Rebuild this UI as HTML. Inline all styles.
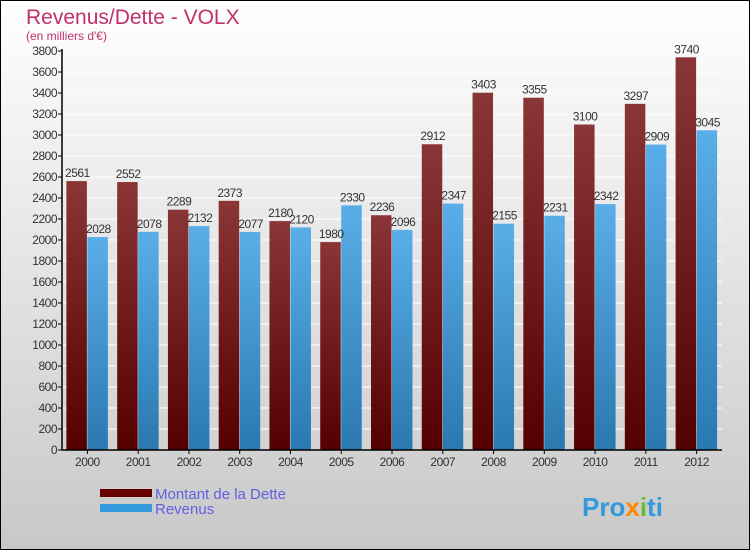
<!DOCTYPE html>
<html><head><meta charset="utf-8"><style>
body{margin:0}
#c{width:750px;height:550px;position:relative;box-sizing:border-box;border:1px solid #000;background:linear-gradient(#ffffff,#c8c8c8);font-family:"Liberation Sans",sans-serif;overflow:hidden}
</style></head><body>
<div id="c">
<svg id="s" width="750" height="550" style="position:absolute;left:-1px;top:-1px">
<defs>
<linearGradient id="gd" x1="0" y1="0" x2="0" y2="1"><stop offset="0" stop-color="#8a3636"/><stop offset="1" stop-color="#550000"/></linearGradient>
<linearGradient id="gr" x1="0" y1="0" x2="0" y2="1"><stop offset="0" stop-color="#5aaee8"/><stop offset="1" stop-color="#2a78b0"/></linearGradient>
</defs>
<text x="26" y="24" font-size="21" fill="#c0306a">Revenus/Dette - VOLX</text>
<text x="26" y="40" font-size="12" fill="#c0306a">(en milliers d'€)</text>
<g id="plot"></g>
<rect x="100" y="489" width="52" height="8" fill="#660000"/>
<text x="155" y="499" font-size="15" fill="#6060e0">Montant de la Dette</text>
<rect x="100" y="504" width="52" height="8" fill="#3399dd"/>
<text x="155" y="514" font-size="15" fill="#6060e0">Revenus</text>
<text x="582" y="516" font-size="26" font-weight="bold" fill="#3399dd">Pro<tspan fill="#ff8800">x</tspan><tspan fill="#66bb33">i</tspan>ti</text>
</svg>
</div>
<script>
const years=["2000","2001","2002","2003","2004","2005","2006","2007","2008","2009","2010","2011","2012"];
const dette=[2561,2552,2289,2373,2180,1980,2236,2912,3403,3355,3100,3297,3740];
const revenus=[2028,2078,2132,2077,2120,2330,2096,2347,2155,2231,2342,2909,3045];
const ticks=[0,200,400,600,800,1000,1200,1400,1600,1800,2000,2200,2400,2600,2800,3000,3200,3400,3600,3800];
const NS="http://www.w3.org/2000/svg";
const g=document.getElementById('plot');
const x0=62,x1=722,y0=450,yTop=51,ymax=3800;
const y=v=>y0-(v/ymax)*(y0-yTop);
const step=(x1-x0)/years.length;
const cx=i=>x0+step*(i+0.5);
function mk(t,a){const e=document.createElementNS(NS,t);for(const k in a)e.setAttribute(k,a[k]);g.appendChild(e);return e;}
ticks.forEach(t=>{
 const l=mk('line',{x1:x0,x2:x1,y1:y(t),y2:y(t),stroke:'#ffffff','stroke-width':1});
 
 
 const k=mk('line',{x1:x0-4,x2:x0,y1:y(t),y2:y(t),stroke:'#000'});
 
 
 const tx=mk('text',{x:x0-5,y:y(t)+4,'font-size':12,'text-anchor':'end',fill:'#333','letter-spacing':'-0.5'});
 tx.textContent=t;
 
 
});
years.forEach((yr,i)=>{
 const c=cx(i);
 const b1=mk('rect',{x:c-21,y:y(dette[i]),width:20.5,height:y0-y(dette[i]),fill:'url(#gd)'});
 
 
 const b2=mk('rect',{x:c,y:y(revenus[i]),width:20.5,height:y0-y(revenus[i]),fill:'url(#gr)'});
 
 
 const t1=mk('text',{x:c-10,y:y(dette[i])-4,'font-size':12,'text-anchor':'middle',fill:'#333','letter-spacing':'-0.5'});
 t1.textContent=dette[i];
 
 
 const t2=mk('text',{x:c+11,y:y(revenus[i])-4,'font-size':12,'text-anchor':'middle',fill:'#333','letter-spacing':'-0.5'});
 t2.textContent=revenus[i];
 
 
 const k=mk('line',{x1:c,x2:c,y1:y0,y2:y0+4,stroke:'#000'});
 
 
 const xl=mk('text',{x:c,y:y0+16,'font-size':12,'text-anchor':'middle',fill:'#333','letter-spacing':'-0.5'});
 xl.textContent=yr;
 
 
});
const ax=mk('line',{x1:x0,x2:x0,y1:yTop-2,y2:y0,stroke:'#000','stroke-width':1.5});


const bx=mk('line',{x1:x0,x2:x1,y1:y0,y2:y0,stroke:'#000','stroke-width':1.5});


</script>
</body></html>
